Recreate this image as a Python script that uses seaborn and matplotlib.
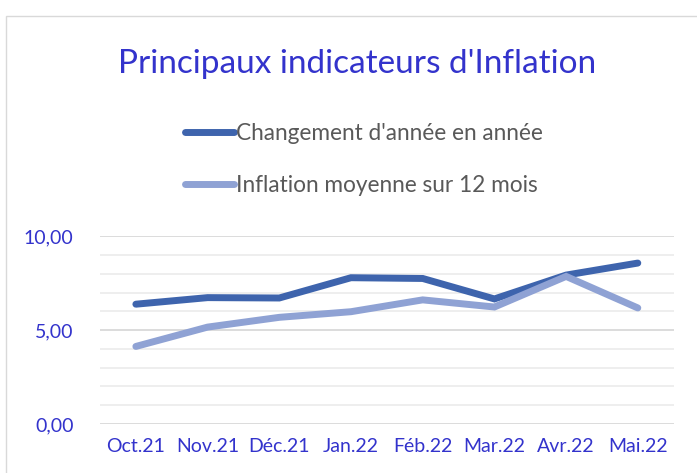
import numpy as np
import pandas as pd
import matplotlib.pyplot as plt
from matplotlib.patches import Rectangle
import seaborn as sns

# données
mois = ["Oct.21", "Nov.21", "Déc.21", "Jan.22", "Féb.22", "Mar.22", "Avr.22", "Mai.22"]
changement_annuel = [6.38, 6.73, 6.71, 7.79, 7.75, 6.66, 7.93, 8.57]
inflation_moyenne = [4.13, 5.16, 5.68, 5.98, 6.61, 6.23, 7.86, 6.18]
series_labels = ["Changement d'année en année", "Inflation moyenne sur 12 mois"]
yticks = [0, 5, 10]
ytick_labels = ["0,00", "5,00", "10,00"]

BLEU_TITRE = "#3333CC"
couleurs = ["#3E64AD", "#8FA2D4"]

df = pd.DataFrame({
    "mois": mois * 2,
    "valeur": changement_annuel + inflation_moyenne,
    "serie": [series_labels[0]] * len(mois) + [series_labels[1]] * len(mois),
})

sns.set_style("white")
plt.rcParams["font.family"] = ["Lato", "DejaVu Sans"]

fig = plt.figure(figsize=(6.97, 4.73), dpi=100)
ax = fig.add_axes([0.1435, 0.1036, 0.823, 0.397])

sns.lineplot(data=df, x="mois", y="valeur", hue="serie", palette=couleurs,
             linewidth=5, sort=False, ax=ax, legend=True)
for line in ax.get_lines():
    line.set_solid_capstyle("round")
    line.set_solid_joinstyle("miter")

ax.set_xlim(-0.5, len(mois) - 0.5)
ax.set_ylim(0, 10)
ax.set_yticks(yticks)
ax.set_yticklabels(ytick_labels)
ax.set_yticks(np.arange(0, 11, 1), minor=True)
ax.grid(axis="y", which="major", color="#D9D9D9", linewidth=1.3)
ax.grid(axis="y", which="minor", color="#EDEDED", linewidth=1.3)
ax.set_axisbelow(True)
ax.tick_params(axis="both", which="both", length=0, labelsize=14, labelcolor=BLEU_TITRE)
ax.tick_params(axis="y", pad=19)
ax.tick_params(axis="x", pad=10)
ax.set_xlabel("")
ax.set_ylabel("")
sns.despine(ax=ax, left=True, bottom=True)

leg = ax.legend(loc="center", bbox_to_anchor=(0.5215, 0.663), bbox_transform=fig.transFigure,
                frameon=False, fontsize=16.3, handlelength=2.2, handletextpad=0.05,
                labelspacing=1.4, borderpad=0)
for t in leg.get_texts():
    t.set_color("#595959")
for h in leg.get_lines():
    h.set_linewidth(5)
    h.set_solid_capstyle("round")

fig.text(0.513, 0.865, "Principaux indicateurs d'Inflation", ha="center", va="center",
         fontsize=24, color=BLEU_TITRE)

# cadre du graphique
fig.patches.append(Rectangle((6 / 697, -0.05), 1.0, 1 - 16 / 473 + 0.05, transform=fig.transFigure,
                             fill=False, edgecolor="#D9D9D9", linewidth=1))

fig.savefig("out.png", dpi=100)
